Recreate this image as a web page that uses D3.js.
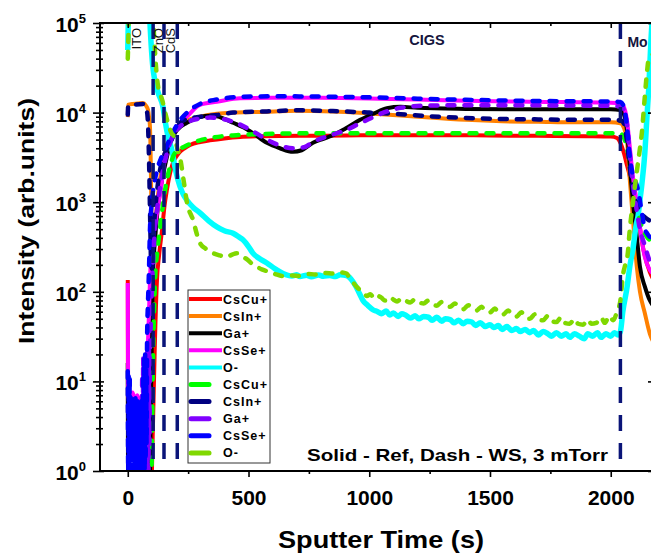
<!DOCTYPE html>
<html>
<head>
<meta charset="utf-8">
<script src="https://cdn.jsdelivr.net/npm/d3@7"></script>
<style>
  html, body { margin: 0; padding: 0; background: #fff; }
  svg { display: block; font-family: Arial, "Liberation Sans", sans-serif; }
</style>
</head>
<body>
<svg id="chart" width="651" height="556"></svg>
<script>
// ToF-SIMS depth profile: [sputter time (s), intensity (arb. units)]
// Reference sample (solid lines)
const refCsCu = [[0,135],[2,0.5],[96,0.5],[104,3],[112,25],[121,136],[130,260],[142,490],[152,900],[162,1370],[175,2100],[187,2750],[200,3200],[216,3650],[235,4000],[258,4350],[300,4700],[340,4900],[400,5150],[465,5350],[550,5450],[713,5500],[900,5550],[1100,5600],[1300,5600],[1500,5550],[1700,5500],[1900,5450],[2000,5400],[2026,5200],[2040,4600],[2055,3500],[2067,2600],[2080,1900],[2092,1300],[2105,900],[2113,700],[2133,320],[2162,165],[2175,140]];
const refCsIn = [[0,8900],[1,12200],[20,12500],[40,12600],[63,12800],[75,12000],[84,10700],[88,9000],[92,6900],[95,3000],[98,800],[101,300],[105,250],[112,500],[125,1200],[142,2500],[154,3600],[175,5300],[204,7000],[245,8200],[299,9000],[369,9700],[450,10000],[576,10200],[700,10500],[850,10300],[1000,9800],[1130,9300],[1250,8800],[1400,8300],[1550,8000],[1700,7900],[1850,7800],[2000,7800],[2040,7600],[2050,7200],[2067,4900],[2079,1770],[2092,640],[2108,190],[2121,100],[2141,58],[2162,34],[2175,28]];
const refGa = [[0,16],[1.5,0.6],[90,0.6],[97,10],[104,136],[115,450],[125,880],[142,1770],[162,3200],[180,4900],[204,6400],[245,7700],[299,8900],[340,9200],[369,9100],[400,8500],[436,7700],[480,6800],[518,5900],[576,4600],[630,4000],[684,3650],[720,3800],[767,4600],[810,5100],[850,5600],[900,6600],[962,8300],[1020,9800],[1073,11200],[1130,11600],[1200,11300],[1400,11000],[1600,10900],[1800,10900],[2000,10900],[2040,10700],[2050,10200],[2067,6400],[2079,2500],[2092,1000],[2108,410],[2121,190],[2141,115],[2162,80],[2175,70]];
const refCsSe = [[0,125],[1.5,7],[10,6],[20,7.5],[30,6],[40,7],[50,5.5],[60,7],[70,6.5],[75,8],[82,20],[88,60],[92,136],[104,380],[115,600],[125,880],[142,1770],[154,3200],[175,4900],[204,6900],[245,9000],[299,12200],[369,13200],[465,14500],[600,14600],[800,14600],[1000,14400],[1200,14000],[1400,13600],[1600,13300],[1800,13100],[2000,12900],[2040,12700],[2050,12200],[2067,8300],[2079,4100],[2092,1900],[2108,1000],[2121,530],[2141,245],[2162,175],[2175,160]];
const refO = [[0,50000],[4,130000],[90,130000],[92,100000],[104,32000],[125,17000],[146,11500],[154,8300],[168,5200],[183,3800],[195,2500],[208,1770],[225,1300],[245,1050],[270,880],[299,760],[335,620],[369,530],[400,480],[436,450],[460,410],[477,380],[500,320],[518,270],[545,235],[576,210],[610,180],[643,160],[680,150],[700,155],[713,148],[740,153],[760,147],[790,154],[810,149],[837,152],[860,148],[880,155],[906,152],[925,138],[946,113],[960,95],[974,80],[995,70],[1015,63],[1035,60],[1050,57],[1070,61],[1085,55],[1100,58],[1120,53],[1135,57],[1150,55],[1170,51],[1190,54],[1205,50],[1225,53],[1245,52],[1260,48],[1280,52],[1300,47],[1315,50],[1335,49],[1350,45],[1370,48],[1390,44],[1405,47],[1425,46],[1440,42],[1460,45],[1480,41],[1500,43],[1515,40],[1535,42],[1550,38],[1570,41],[1590,37],[1610,39],[1625,36],[1645,38],[1665,35],[1680,37],[1700,33],[1720,36],[1740,34],[1755,32],[1775,35],[1795,32],[1815,34],[1830,31],[1850,34],[1870,32],[1890,30],[1905,34],[1925,32],[1945,35],[1960,31],[1980,34],[2000,32],[2015,35],[2030,33],[2040,36],[2050,60],[2067,110],[2080,200],[2092,300],[2105,550],[2113,700],[2121,1050],[2129,1600],[2141,3500],[2150,9000],[2158,20000],[2166,60000],[2175,150000]];

// WS sample (dashed lines)
const wsCsCu = [[0,0.5],[97,0.6],[100,2],[104,15],[108,50],[113,136],[122,280],[133,490],[147,1000],[162,1770],[175,2500],[187,3200],[205,3800],[229,4100],[260,4500],[299,4900],[360,5300],[450,5600],[600,5800],[800,5900],[1000,5900],[1200,5900],[1500,5900],[1800,5900],[2000,5900],[2040,5800],[2059,4900],[2079,2750],[2092,1640],[2108,880],[2129,530],[2150,410],[2162,380],[2175,370]];
const wsCsIn = [[0,9500],[2,12000],[30,12300],[63,12500],[75,11500],[82,9000],[88,3000],[93,600],[97,200],[101,180],[106,400],[115,900],[130,2000],[150,3300],[175,4500],[205,7000],[245,8500],[300,9000],[370,9400],[436,10000],[576,10300],[700,10600],[850,10400],[1000,10000],[1130,9600],[1250,9100],[1400,8700],[1550,8500],[1700,8400],[1850,8300],[2000,8300],[2040,8200],[2055,7500],[2067,4800],[2079,2400],[2092,1400],[2108,950],[2121,780],[2141,680],[2162,620],[2175,600]];
const wsGa = [[58,1],[60,12],[62,1],[64,18],[66,1],[68,15],[70,1],[72,20],[74,1],[76,14],[78,1],[80,22],[82,1],[84,18],[86,1],[88,25],[90,2],[92,22],[96,50],[100,110],[110,400],[125,1000],[142,2000],[162,3500],[180,5000],[204,6500],[245,7800],[299,8600],[340,8800],[369,8700],[436,7900],[518,6200],[576,5000],[630,4300],[684,4000],[730,4100],[767,4700],[850,5700],[900,6300],[962,7600],[1020,9000],[1073,10300],[1130,11300],[1250,12000],[1500,12100],[1800,12000],[2000,11900],[2040,11700],[2050,11300],[2067,7500],[2079,3500],[2092,1600],[2108,800],[2121,500],[2141,330],[2162,220],[2175,200]];
const wsCsSe = [[0,13],[2,1],[4,12],[6,1.2],[8,11],[10,1],[12,7],[14,1],[16,6],[18,1.3],[20,7],[22,1],[24,6],[26,1],[28,5],[30,1.2],[32,6.5],[34,1],[36,5],[38,1],[40,6],[42,1.1],[44,5.5],[46,1],[48,6],[50,1],[52,5],[54,1.2],[56,6],[58,1],[60,6.5],[62,1],[64,12],[66,1],[68,18],[70,1],[72,20],[74,1.3],[76,17],[78,2],[80,30],[84,80],[88,180],[92,500],[98,900],[104,1300],[120,2200],[140,3200],[162,4300],[204,7300],[258,10700],[299,12500],[369,14000],[465,15000],[600,15200],[800,15100],[1000,14800],[1200,14300],[1400,13900],[1600,13600],[1800,13400],[2000,13300],[2040,13100],[2055,11500],[2067,7000],[2079,3200],[2092,2000],[2100,1770],[2113,1370],[2129,760],[2141,500],[2150,450],[2162,410],[2175,400]];
const wsO = [[0,40000],[3,80000],[6,200000],[100,200000],[108,80000],[118,30000],[125,20000],[142,14000],[155,10000],[166,7700],[180,6000],[195,5200],[205,4000],[216,3200],[232,1700],[249,880],[260,740],[270,640],[285,450],[299,350],[325,300],[353,270],[380,255],[411,245],[430,258],[452,270],[470,250],[494,230],[515,205],[535,190],[555,178],[576,170],[610,158],[643,150],[680,152],[713,150],[750,158],[790,155],[820,162],[850,160],[880,165],[906,160],[920,140],[935,125],[950,112],[965,103],[974,100],[990,90],[1005,94],[1020,84],[1035,90],[1050,86],[1065,80],[1085,88],[1100,82],[1115,78],[1135,85],[1150,80],[1170,76],[1190,83],[1205,77],[1225,74],[1245,80],[1260,73],[1280,70],[1300,77],[1315,71],[1335,68],[1355,74],[1370,67],[1390,64],[1410,71],[1425,65],[1445,62],[1465,68],[1480,61],[1500,59],[1520,65],[1535,58],[1555,56],[1575,62],[1590,55],[1610,53],[1630,59],[1645,52],[1665,50],[1685,56],[1700,49],[1720,48],[1740,54],[1755,47],[1775,46],[1795,52],[1810,45],[1830,44],[1850,50],[1865,44],[1885,43],[1905,49],[1920,44],[1940,45],[1960,52],[1975,45],[1995,54],[2010,48],[2026,60],[2040,80],[2050,150],[2060,200],[2070,260],[2079,500],[2092,1000],[2108,2200],[2121,4000],[2129,6000],[2141,15000],[2150,28000],[2156,38000],[2166,42000],[2175,45000]];

const speciesNames = ["CsCu+", "CsIn+", "Ga+", "CsSe+", "O-"];
const refColors = ["#ff0000", "#ff8000", "#000000", "#ff00ff", "#00ffff"];
const wsColors  = ["#00ff00", "#000080", "#8000ff", "#0000ff", "#80d800"];

const xMajorTicks = [0, 500, 1000, 1500, 2000];
const xMinorTicks = [250, 750, 1250, 1750];
const yDecades = [0, 1, 2, 3, 4, 5];

// layer interfaces (s) and layer names
const interfaces = [105, 150, 205, 2040];
const layerNames = ["ITO", "ZnO", "CdS", "CIGS", "Mo"];
const noteText = "Solid - Ref, Dash - WS, 3 mTorr";

// ---------------------------------------------------------------
const svg = d3.select("#chart");
const X0 = 100, X1 = 653, YT = 23, YB = 471;

const x = d3.scaleLinear().domain([-115, 2175]).range([X0, X1]);
const y = d3.scaleLog().domain([1, 1e5]).range([YB, YT]);

svg.append("defs").append("clipPath").attr("id", "plotClip")
  .append("rect").attr("x", X0).attr("y", YT).attr("width", X1 - X0).attr("height", YB - YT);

const line = d3.line()
  .x(d => x(d[0]))
  .y(d => y(Math.max(d[1], 0.3)))
  .curve(d3.curveMonotoneX);

const refData = [refCsCu, refCsIn, refGa, refCsSe, refO];
const wsData = [wsCsCu, wsCsIn, wsGa, wsCsSe, wsO];

const plot = svg.append("g").attr("clip-path", "url(#plotClip)");

refData.forEach((pts, i) => {
  plot.append("path").datum(pts)
    .attr("d", line)
    .attr("fill", "none")
    .attr("stroke", refColors[i])
    .attr("stroke-width", i === 4 ? 5.5 : 4)
    .attr("stroke-linejoin", "round");
});
wsData.forEach((pts, i) => {
  plot.append("path").datum(pts)
    .attr("d", line)
    .attr("fill", "none")
    .attr("stroke", wsColors[i])
    .attr("stroke-width", 4.5)
    .attr("stroke-linecap", "round")
    .attr("stroke-dasharray", "7,10");
});

// interface markers
plot.selectAll("line.iface").data(interfaces).enter().append("line")
  .attr("class", "iface")
  .attr("x1", d => x(d)).attr("x2", d => x(d))
  .attr("y1", YT).attr("y2", YB)
  .attr("stroke", "#0a1478")
  .attr("stroke-width", 3.5)
  .attr("stroke-dasharray", "16,12");

// layer names
const rotatedLabels = [
  { t: layerNames[0], px: x(interfaces[0]) - 12 },
  { t: layerNames[1], px: x(interfaces[1]) - 1 },
  { t: layerNames[2], px: x(interfaces[2]) - 2 }
];
rotatedLabels.forEach(l => {
  svg.append("text")
    .attr("transform", `translate(${l.px},28) rotate(-90)`)
    .attr("text-anchor", "end")
    .attr("font-size", 13)
    .attr("fill", "#111")
    .text(l.t);
});
svg.append("text")
  .attr("x", x(1239)).attr("y", 45)
  .attr("text-anchor", "middle")
  .attr("font-size", 14.5).attr("font-weight", "bold").attr("fill", "#14143c")
  .text(layerNames[3]);
svg.append("text")
  .attr("x", x(interfaces[3]) + 7).attr("y", 47)
  .attr("font-size", 14).attr("font-weight", "bold").attr("fill", "#14143c")
  .text(layerNames[4]);

// ---------------- axes ----------------
const axisStyle = g => {
  g.select(".domain").remove();
  g.selectAll(".tick line").attr("stroke", "#000").attr("stroke-width", 1.6);
};

// bottom
svg.append("g").attr("transform", `translate(0,${YB})`)
  .call(d3.axisBottom(x).tickValues(xMajorTicks).tickSize(6).tickSizeOuter(0).tickFormat(d3.format("d")))
  .call(axisStyle)
  .call(g => g.selectAll(".tick text")
    .attr("y", 34).attr("dy", null)
    .attr("font-size", 21).attr("font-weight", "bold")
    .attr("font-family", "Arial, 'Liberation Sans', sans-serif")
    .attr("fill", "#000"));
svg.append("g").attr("transform", `translate(0,${YB})`)
  .call(d3.axisBottom(x).tickValues(xMinorTicks).tickSize(3).tickSizeOuter(0).tickFormat(""))
  .call(axisStyle);

// top (ticks inward)
svg.append("g").attr("transform", `translate(0,${YT})`)
  .call(d3.axisTop(x).tickValues(xMajorTicks).tickSize(-5).tickSizeOuter(0).tickFormat(""))
  .call(axisStyle);
svg.append("g").attr("transform", `translate(0,${YT})`)
  .call(d3.axisTop(x).tickValues(xMinorTicks).tickSize(-3).tickSizeOuter(0).tickFormat(""))
  .call(axisStyle);

// left
const decadeVals = yDecades.map(k => Math.pow(10, k));
const minorVals = [];
yDecades.slice(0, -1).forEach(k => {
  for (let m = 2; m <= 9; m++) minorVals.push(m * Math.pow(10, k));
});
svg.append("g").attr("transform", `translate(${X0},0)`)
  .call(d3.axisLeft(y).tickValues(decadeVals).tickSize(7).tickSizeOuter(0).tickFormat(""))
  .call(axisStyle);
svg.append("g").attr("transform", `translate(${X0},0)`)
  .call(d3.axisLeft(y).tickValues(decadeVals).tickSize(-4).tickSizeOuter(0).tickFormat(""))
  .call(axisStyle);
svg.append("g").attr("transform", `translate(${X0},0)`)
  .call(d3.axisLeft(y).tickValues(minorVals).tickSize(4).tickSizeOuter(0).tickFormat(""))
  .call(axisStyle);
svg.append("g").attr("transform", `translate(${X0},0)`)
  .call(d3.axisLeft(y).tickValues(minorVals).tickSize(-3).tickSizeOuter(0).tickFormat(""))
  .call(axisStyle);

// right (ticks inward)
svg.append("g").attr("transform", `translate(${X1},0)`)
  .call(d3.axisRight(y).tickValues(decadeVals).tickSize(-5).tickSizeOuter(0).tickFormat(""))
  .call(axisStyle);

// y tick labels as powers of ten
yDecades.forEach(k => {
  const t = svg.append("text")
    .attr("x", 86).attr("y", y(Math.pow(10, k)) + 9)
    .attr("text-anchor", "end")
    .attr("font-weight", "bold").attr("fill", "#000");
  t.append("tspan").attr("font-size", 21).text("10");
  t.append("tspan").attr("font-size", 13).attr("dy", -9).text(k);
});

// frame
svg.append("path")
  .attr("d", `M${X1},${YT}H${X0}V${YB}H${X1}`)
  .attr("fill", "none").attr("stroke", "#000").attr("stroke-width", 2);
svg.append("line")
  .attr("x1", X1).attr("x2", X1).attr("y1", YT).attr("y2", YB)
  .attr("stroke", "#000").attr("stroke-width", 2);

// axis titles
svg.append("text")
  .attr("x", 381).attr("y", 548)
  .attr("text-anchor", "middle")
  .attr("font-size", 24).attr("font-weight", "bold")
  .attr("textLength", 206).attr("lengthAdjust", "spacingAndGlyphs")
  .text("Sputter Time (s)");
svg.append("text")
  .attr("transform", "translate(34,221) rotate(-90)")
  .attr("text-anchor", "middle")
  .attr("font-size", 22).attr("font-weight", "bold")
  .attr("textLength", 246).attr("lengthAdjust", "spacingAndGlyphs")
  .text("Intensity (arb.units)");

// annotation
svg.append("text")
  .attr("x", 307).attr("y", 461)
  .attr("font-size", 17).attr("font-weight", "bold")
  .attr("textLength", 301).attr("lengthAdjust", "spacingAndGlyphs")
  .text(noteText);

// ---------------- legend ----------------
const legend = svg.append("g");
legend.append("rect")
  .attr("x", 188).attr("y", 290).attr("width", 82).attr("height", 173)
  .attr("fill", "#fff").attr("stroke", "#333").attr("stroke-width", 1);

const legendRows = speciesNames.map((n, i) => ({ name: n, color: refColors[i], dashed: false }))
  .concat(speciesNames.map((n, i) => ({ name: n, color: wsColors[i], dashed: true })));

legendRows.forEach((r, i) => {
  const ry = 299 + i * 17.1;
  if (r.dashed) {
    legend.append("line")
      .attr("x1", 191).attr("x2", 209).attr("y1", ry).attr("y2", ry)
      .attr("stroke", r.color).attr("stroke-width", 5).attr("stroke-linecap", "round");
  } else {
    legend.append("line")
      .attr("x1", 189).attr("x2", 222).attr("y1", ry).attr("y2", ry)
      .attr("stroke", r.color).attr("stroke-width", 4);
  }
  legend.append("text")
    .attr("x", 223).attr("y", ry + 4.5)
    .attr("font-size", 12.5).attr("font-weight", "bold")
    .attr("letter-spacing", 1)
    .attr("fill", "#000")
    .text(r.name);
});
</script>
</body>
</html>
